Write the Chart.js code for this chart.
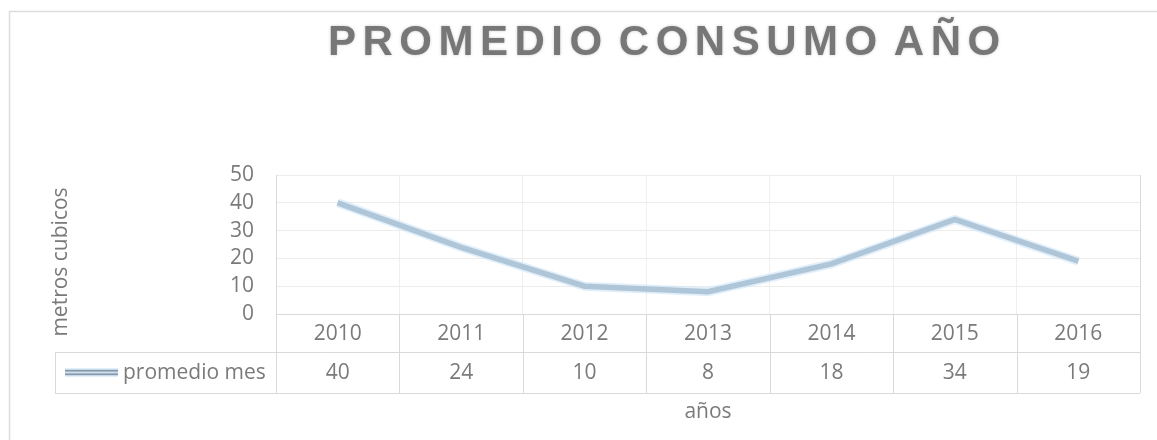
<!DOCTYPE html>
<html>
<head>
<meta charset="utf-8">
<script src="https://cdn.jsdelivr.net/npm/chart.js@4"></script>
<style>
    html, body { margin: 0; padding: 0; background: #fff; }
    #wrap { width: 1157px; height: 440px; position: relative; }
</style>
</head>
<body>
<div id="wrap"><canvas id="consumo-chart"></canvas></div>
<script>
// Consumo promedio por año (metros cubicos)
const years = ['2010', '2011', '2012', '2013', '2014', '2015', '2016'];
const promedioMes = [40, 24, 10, 8, 18, 34, 19];
const yTicks = [0, 10, 20, 30, 40, 50];

const seriesName = 'promedio mes';
const chartTitle = 'PROMEDIO CONSUMO AÑO';
const yTitle = 'metros cubicos';
const xTitle = 'años';

const FONT = "'Open Sans', Lato, sans-serif";
const TEXT = '#7a7a7a';
const TABLE_LINE = '#d9d9d9';

// stroke layers for the doubled line: soft glow, dark edges, light core
const lineLayers = [
    { w: 9, c: 'rgba(205,228,246,0.6)' },
    { w: 5.5, c: '#8396aa' },
    { w: 2, c: '#cddcea' }
];

function doubleStroke(ctx, x1, y1, x2, y2) {
    lineLayers.forEach(l => {
        ctx.beginPath();
        ctx.lineWidth = l.w;
        ctx.strokeStyle = l.c;
        ctx.moveTo(x1, y1);
        ctx.lineTo(x2, y2);
        ctx.stroke();
    });
}

const tablePlugin = {
    id: 'dataTable',
    afterDraw(chart) {
        const ctx = chart.ctx;
        const area = chart.chartArea;
        const xs = chart.scales.x;
        const n = years.length;
        const colW = (area.right - area.left) / n;
        const rowTop = area.bottom;
        const rowMid = rowTop + 38;
        const rowBot = rowMid + 41;
        const tableLeft = 55;

        ctx.save();

        // outer chart frame
        ctx.strokeStyle = '#dcdcdc';
        ctx.lineWidth = 1.5;
        ctx.strokeRect(9.5, 11.5, 1200, 500);

        // table grid
        ctx.strokeStyle = TABLE_LINE;
        ctx.lineWidth = 1;
        ctx.beginPath();
        ctx.moveTo(area.left, rowTop + 0.5); ctx.lineTo(area.right, rowTop + 0.5);
        ctx.moveTo(tableLeft, rowMid + 0.5); ctx.lineTo(area.right, rowMid + 0.5);
        ctx.moveTo(tableLeft, rowBot + 0.5); ctx.lineTo(area.right, rowBot + 0.5);
        ctx.moveTo(tableLeft + 0.5, rowMid); ctx.lineTo(tableLeft + 0.5, rowBot);
        for (let i = 0; i <= n; i++) {
            const x = Math.round(area.left + i * colW) + 0.5;
            ctx.moveTo(x, i === 0 || i === n ? area.top : rowTop);
            ctx.lineTo(x, rowBot);
        }
        ctx.stroke();

        // category and value rows
        ctx.fillStyle = TEXT;
        ctx.font = '21px ' + FONT;
        ctx.textAlign = 'center';
        ctx.textBaseline = 'middle';
        years.forEach((y, i) => {
            const x = xs.getPixelForValue(i);
            ctx.fillText(y, x, (rowTop + rowMid) / 2 + 1);
            ctx.fillText(String(promedioMes[i]), x, (rowMid + rowBot) / 2 + 1);
        });

        // legend key cell
        doubleStroke(ctx, 65, (rowMid + rowBot) / 2, 118, (rowMid + rowBot) / 2);
        ctx.textAlign = 'left';
        ctx.fillStyle = TEXT;
        ctx.fillText(seriesName, 123, (rowMid + rowBot) / 2 + 1);

        // axis titles
        ctx.textAlign = 'center';
        ctx.fillText(xTitle, (area.left + area.right) / 2, 412);
        ctx.save();
        ctx.translate(61, 262);
        ctx.rotate(-Math.PI / 2);
        ctx.fillText(yTitle, 0, 0);
        ctx.restore();

        // chart title
        ctx.font = "bold 42px 'Liberation Sans', Arial, sans-serif";
        ctx.letterSpacing = '6.5px';
        ctx.wordSpacing = '-8px';
        ctx.fillStyle = '#777777';
        ctx.shadowColor = 'rgba(120,120,120,0.4)';
        ctx.shadowBlur = 3;
        ctx.textAlign = 'left';
        ctx.textBaseline = 'alphabetic';
        ctx.fillText(chartTitle, 328, 55);

        ctx.restore();
    }
};

new Chart(document.getElementById('consumo-chart'), {
    type: 'line',
    data: {
        labels: years,
        // same values drawn once per stroke layer
        datasets: lineLayers.map(l => ({
            label: seriesName,
            data: promedioMes,
            borderColor: l.c,
            borderWidth: l.w,
            pointRadius: 0,
            tension: 0,
            fill: false
        }))
    },
    options: {
        responsive: true,
        maintainAspectRatio: false,
        animation: false,
        layout: { padding: { top: 175, left: 0, right: 17, bottom: 0 } },
        plugins: {
            legend: { display: false },
            title: { display: false },
            tooltip: { enabled: false }
        },
        scales: {
            x: {
                offset: true,
                grid: { offset: true, color: '#efefef', drawTicks: false },
                border: { display: false },
                ticks: { display: false },
                afterFit(scale) { scale.height = 126; }
            },
            y: {
                min: 0,
                max: 50,
                afterBuildTicks(scale) { scale.ticks = yTicks.map(v => ({ value: v })); },
                grid: {
                    drawTicks: false,
                    color: ctx => ctx.tick && ctx.tick.value === 0 ? TABLE_LINE : '#ececec'
                },
                border: { display: false },
                ticks: {
                    color: TEXT,
                    font: { family: FONT, size: 21 },
                    padding: 22,
                    autoSkip: false
                },
                afterFit(scale) { scale.width = 276; }
            }
        }
    },
    plugins: [tablePlugin]
});
</script>
</body>
</html>
